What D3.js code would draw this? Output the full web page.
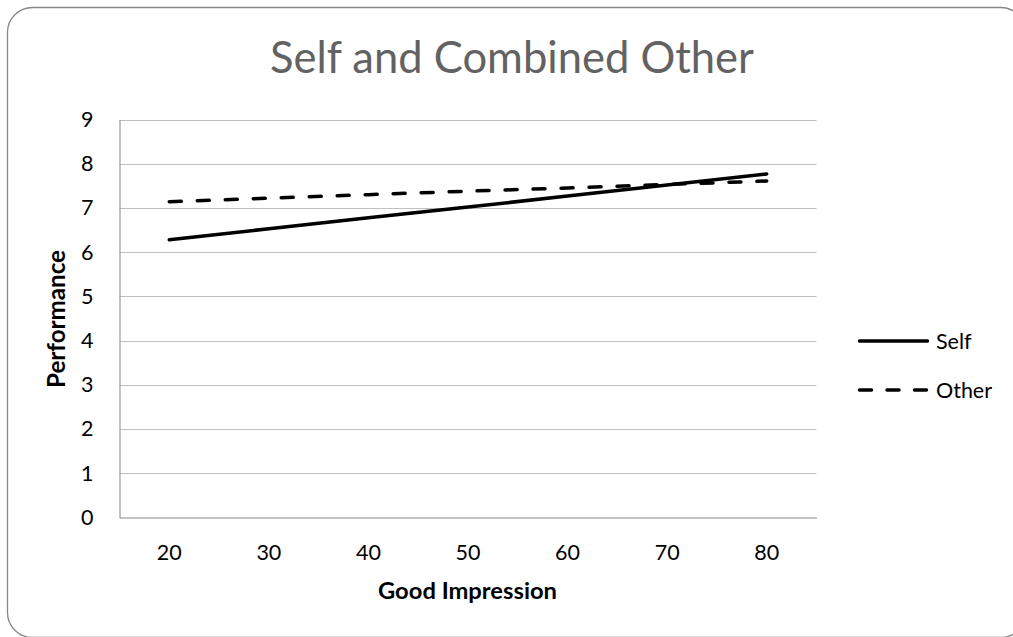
<!DOCTYPE html>
<html><head><meta charset="utf-8">
<script src="https://cdn.jsdelivr.net/npm/d3@7"></script>
<style>html,body{margin:0;padding:0;background:#fff;}svg{display:block;font-family:Lato,"Open Sans",sans-serif;}</style>
</head><body>
<script>
const categories = [20, 30, 40, 50, 60, 70, 80];
const selfValues = [6.28, 6.53, 6.78, 7.02, 7.27, 7.52, 7.77];
const otherValues = [7.14, 7.22, 7.30, 7.38, 7.45, 7.53, 7.61];
const yTicks = [0, 1, 2, 3, 4, 5, 6, 7, 8, 9];
const seriesNames = ["Self", "Other"];

const W = 1013, H = 637;
const svg = d3.select("body").append("svg").attr("width", W).attr("height", H);

svg.append("rect").attr("x", 7.5).attr("y", 7.5).attr("width", 1018).attr("height", 630)
  .attr("rx", 25).attr("ry", 25).attr("fill", "#fff").attr("stroke", "#868686").attr("stroke-width", 1.3);

const plot = {left: 119.5, right: 816.5, top: 119.5, bottom: 517.5};
const x = d3.scaleBand().domain(categories).range([plot.left, plot.right]);
const y = d3.scaleLinear().domain([0, 9]).range([plot.bottom, plot.top]);

// gridlines
svg.append("g").selectAll("line").data(yTicks.filter(d => d > 0)).join("line")
  .attr("x1", plot.left).attr("x2", plot.right)
  .attr("y1", d => Math.round(y(d)) + 0.5).attr("y2", d => Math.round(y(d)) + 0.5)
  .attr("stroke", "#c0c0c0").attr("stroke-width", 1);

// y axis
const yAxis = svg.append("g").attr("transform", `translate(${plot.left},0)`)
  .call(d3.axisLeft(y).tickValues(yTicks).tickSize(0).tickPadding(26));
yAxis.select(".domain").attr("stroke", "#868686");
yAxis.selectAll("text").attr("font-size", 21.5).attr("fill", "#000").attr("font-family", "Lato");

// x axis
const xAxis = svg.append("g").attr("transform", `translate(0,${plot.bottom})`)
  .call(d3.axisBottom(x).tickSize(0).tickPadding(0));
xAxis.select(".domain").attr("stroke", "#868686");
xAxis.selectAll("text").attr("font-size", 21.5).attr("fill", "#000").attr("font-family", "Lato")
  .attr("dy", null).attr("y", 42);

// lines
const line = d3.line().x((d, i) => x(categories[i]) + x.bandwidth() / 2).y(d => y(d));
svg.append("path").datum(selfValues).attr("d", line).attr("fill", "none")
  .attr("stroke", "#000").attr("stroke-width", 3.5).attr("stroke-linecap", "round");
svg.append("path").datum(otherValues).attr("d", line).attr("fill", "none")
  .attr("stroke", "#000").attr("stroke-width", 3.5).attr("stroke-linecap", "round")
  .attr("stroke-dasharray", "12,16");

function fit(sel, target) {
  const len = sel.node().getComputedTextLength();
  const fs = +sel.attr("font-size");
  sel.attr("font-size", (fs * target / len).toFixed(2));
}

// title
const title = svg.append("text").attr("x", 512).attr("y", 73).attr("text-anchor", "middle")
  .attr("font-size", 40).attr("fill", "#626262").text("Self and Combined Other");
fit(title, 484);

// axis titles
const xt = svg.append("text").attr("x", 467.5).attr("y", 599).attr("text-anchor", "middle")
  .attr("font-size", 21).attr("font-weight", "bold").attr("fill", "#000").text("Good Impression");
fit(xt, 179);
const yt = svg.append("text").attr("transform", "translate(65,319) rotate(-90)").attr("text-anchor", "middle")
  .attr("font-size", 21).attr("font-weight", "bold").attr("fill", "#000").text("Performance");
fit(yt, 138);

// legend
const legend = svg.append("g");
seriesNames.forEach((name, i) => {
  const ly = 341 + i * 49;
  legend.append("line").attr("x1", 859.5).attr("x2", 927.5).attr("y1", ly).attr("y2", ly)
    .attr("stroke", "#000").attr("stroke-width", 3.5).attr("stroke-linecap", "round")
    .attr("stroke-dasharray", i === 1 ? "12,15.5" : null);
  legend.append("text").attr("x", 936).attr("y", ly + 7.5).attr("font-size", 21.5).attr("fill", "#000").text(name);
});
</script>
</body></html>
